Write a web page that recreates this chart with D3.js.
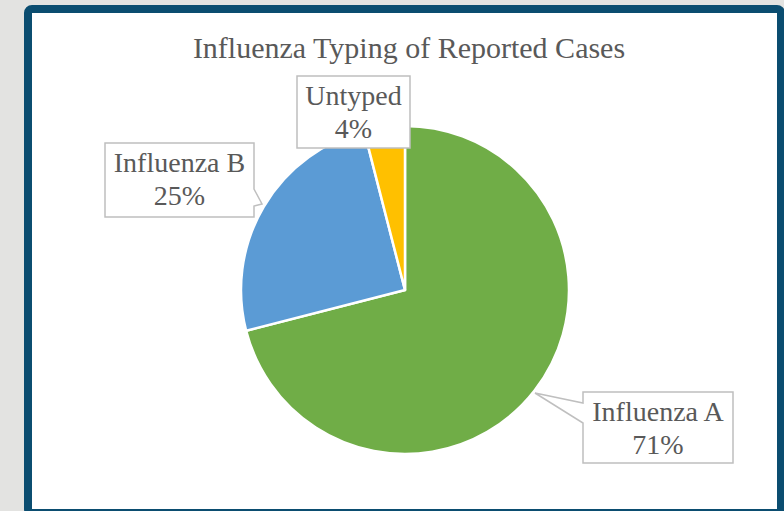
<!DOCTYPE html>
<html>
<head>
<meta charset="utf-8">
<script src="https://cdn.jsdelivr.net/npm/d3@7"></script>
<style>
  html, body { margin: 0; padding: 0; background: #e3e3e1; }
  svg { display: block; }
  text { font-family: "Liberation Serif", "Times New Roman", serif; fill: #595959; }
</style>
</head>
<body>
<div id="chart"></div>
<script>
// Chart data
var categories = ["Influenza A", "Influenza B", "Untyped"];
var values = [71, 25, 4];
var percentLabels = ["71%", "25%", "4%"];
var colors = ["#70AD47", "#5B9BD5", "#FFC000"];
var title = "Influenza Typing of Reported Cases";

var svgWidth = 784;
var svgHeight = 511;

var svg = d3.select("#chart")
  .append("svg")
  .attr("width", svgWidth)
  .attr("height", svgHeight);

// Frame
svg.append("rect")
  .attr("x", 28)
  .attr("y", 9)
  .attr("width", 753)
  .attr("height", 504)
  .attr("rx", 4)
  .attr("fill", "#ffffff")
  .attr("stroke", "#0b4d70")
  .attr("stroke-width", 8);

// Title
svg.append("text")
  .attr("x", 409)
  .attr("y", 58)
  .attr("text-anchor", "middle")
  .attr("font-size", 30)
  .text(title);

// Pie
var cx = 405, cy = 290, radius = 164;

var pie = d3.pie()
  .sort(null)
  .value(function(d) { return d; });

var arc = d3.arc()
  .innerRadius(0)
  .outerRadius(radius);

var pieGroup = svg.append("g")
  .attr("transform", "translate(" + cx + "," + cy + ")");

var arcs = pie(values);

pieGroup.selectAll("path")
  .data(arcs)
  .enter()
  .append("path")
  .attr("d", arc)
  .attr("fill", function(d, i) { return colors[i]; })
  .attr("stroke", "#ffffff")
  .attr("stroke-width", 2.5)
  .attr("stroke-linejoin", "round");

// Callout label boxes (box rect + wedge pointer)
var labelBoxes = [
  { x: 583, y: 392, w: 150, h: 71, wedge: { side: "left", a: 403, b: 423, tip: [535, 393] } },
  { x: 105, y: 143, w: 149, h: 74, wedge: { side: "right", a: 189, b: 206, tip: [262, 204] } },
  { x: 297, y: 76, w: 113, h: 72, wedge: null }
];

function calloutPath(b) {
  var x0 = b.x, y0 = b.y, x1 = b.x + b.w, y1 = b.y + b.h;
  var p = d3.path();
  p.moveTo(x0, y0);
  p.lineTo(x1, y0);
  if (b.wedge && b.wedge.side === "right") {
    p.lineTo(x1, b.wedge.a);
    p.lineTo(b.wedge.tip[0], b.wedge.tip[1]);
    p.lineTo(x1, b.wedge.b);
  }
  p.lineTo(x1, y1);
  p.lineTo(x0, y1);
  if (b.wedge && b.wedge.side === "left") {
    p.lineTo(x0, b.wedge.b);
    p.lineTo(b.wedge.tip[0], b.wedge.tip[1]);
    p.lineTo(x0, b.wedge.a);
  }
  p.closePath();
  return p.toString();
}

var labels = svg.append("g")
  .selectAll("g")
  .data(categories)
  .enter()
  .append("g");

labels.append("path")
  .attr("d", function(d, i) { return calloutPath(labelBoxes[i]); })
  .attr("fill", "#ffffff")
  .attr("stroke", "#bfbfbf")
  .attr("stroke-width", 1.5);

labels.append("text")
  .attr("x", function(d, i) { return labelBoxes[i].x + labelBoxes[i].w / 2; })
  .attr("y", function(d, i) { return labelBoxes[i].y + 29; })
  .attr("text-anchor", "middle")
  .attr("font-size", 28)
  .text(function(d) { return d; });

labels.append("text")
  .attr("x", function(d, i) { return labelBoxes[i].x + labelBoxes[i].w / 2; })
  .attr("y", function(d, i) { return labelBoxes[i].y + 62; })
  .attr("text-anchor", "middle")
  .attr("font-size", 28)
  .text(function(d, i) { return percentLabels[i]; });
</script>
</body>
</html>
